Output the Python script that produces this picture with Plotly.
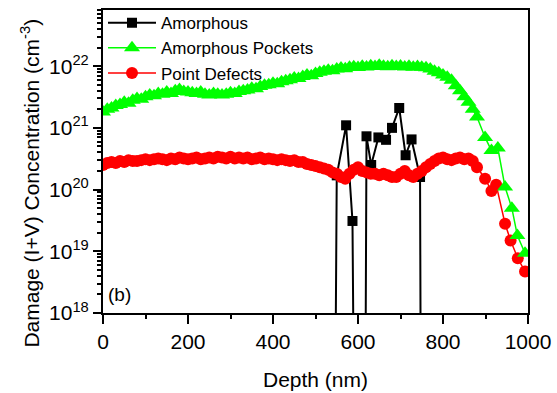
import plotly.graph_objects as go

# ---------------- data ----------------
pockets_depth = [0, 10, 20, 30, 40, 50, 60, 70, 80, 90,
                 100, 110, 120, 130, 140, 150, 160, 170, 180, 190,
                 200, 210, 220, 230, 240, 250, 260, 270, 280, 290,
                 300, 310, 320, 330, 340, 350, 360, 370, 380, 390,
                 400, 410, 420, 430, 440, 450, 460, 470, 480, 490,
                 500, 510, 520, 530, 540, 550, 560, 570, 580, 590,
                 600, 610, 620, 630, 640, 650, 660, 670, 680, 690,
                 700, 710, 720, 730, 740, 750, 760, 770, 780, 790,
                 800, 810, 820, 830, 840, 850, 860, 870, 880,
                 899, 914, 929, 946, 962, 975, 993]
pockets_conc = [1.8e21, 2.0e21, 2.1e21, 2.3e21, 2.4e21, 2.6e21, 2.5e21, 2.8e21, 3.0e21, 2.9e21,
                3.2e21, 3.4e21, 3.3e21, 3.6e21, 3.5e21, 3.8e21, 3.6e21, 4.0e21, 4.2e21, 3.9e21,
                3.8e21, 3.7e21, 3.6e21, 3.8e21, 3.5e21, 3.4e21, 3.6e21, 3.5e21, 3.4e21, 3.5e21,
                3.7e21, 3.6e21, 3.9e21, 4.0e21, 4.1e21, 4.4e21, 4.3e21, 4.7e21, 4.9e21, 5.0e21,
                5.3e21, 5.2e21, 5.6e21, 5.8e21, 6.0e21, 6.4e21, 6.3e21, 6.8e21, 7.2e21, 7.0e21,
                7.6e21, 8.0e21, 8.3e21, 8.6e21, 8.4e21, 9.0e21, 9.3e21, 9.1e21, 9.6e21, 9.8e21,
                9.5e21, 1.0e22, 9.7e21, 1.02e22, 9.9e21, 1.03e22, 1.0e22, 9.8e21, 1.02e22, 9.9e21,
                1.01e22, 9.7e21, 1.0e22, 9.6e21, 9.9e21, 9.6e21, 9.4e21, 9.0e21, 8.3e21, 7.8e21,
                7.2e21, 6.6e21, 5.9e21, 4.8e21, 4.0e21, 3.2e21, 2.6e21, 2.0e21, 1.5e21,
                7.0e20, 4.3e20, 4.7e20, 1.1e20, 5.0e19, 1.8e19, 9.3e18]

defects_depth = [0, 10, 20, 30, 40, 50, 60, 70, 80, 90,
                 100, 110, 120, 130, 140, 150, 160, 170, 180, 190,
                 200, 210, 220, 230, 240, 250, 260, 270, 280, 290,
                 300, 310, 320, 330, 340, 350, 360, 370, 380, 390,
                 400, 410, 420, 430, 440, 450, 460, 470, 480, 490,
                 500, 510, 520, 530, 540, 550, 560, 570, 580, 590,
                 600, 610, 620, 630, 640, 650, 660, 670, 680, 690,
                 700, 710, 720, 730, 740, 750, 760, 770, 780, 790,
                 800, 810, 820, 830, 840, 850, 860, 870, 880,
                 899, 914, 925, 946, 959, 976, 993]
defects_conc = [2.5e20, 2.7e20, 2.8e20, 2.7e20, 2.9e20, 2.8e20, 3.0e20, 2.9e20, 2.9e20, 3.0e20,
                3.1e20, 3.0e20, 3.1e20, 3.2e20, 3.1e20, 3.0e20, 3.2e20, 3.1e20, 3.3e20, 3.2e20,
                3.1e20, 3.2e20, 3.3e20, 3.1e20, 3.2e20, 3.3e20, 3.2e20, 3.4e20, 3.3e20, 3.2e20,
                3.4e20, 3.2e20, 3.3e20, 3.2e20, 3.3e20, 3.1e20, 3.2e20, 3.3e20, 3.1e20, 3.2e20,
                3.1e20, 3.0e20, 3.1e20, 3.0e20, 2.9e20, 3.0e20, 2.8e20, 2.8e20, 2.6e20, 2.5e20,
                2.4e20, 2.3e20, 2.2e20, 2.1e20, 1.9e20, 1.8e20, 1.6e20, 1.5e20, 1.8e20, 2.1e20,
                2.3e20, 2.0e20, 1.9e20, 1.8e20, 1.8e20, 1.7e20, 1.8e20, 1.7e20, 1.6e20, 1.6e20,
                1.8e20, 2.0e20, 1.7e20, 1.6e20, 1.8e20, 2.0e20, 2.3e20, 2.6e20, 2.9e20, 3.2e20,
                3.3e20, 3.1e20, 3.0e20, 3.2e20, 3.3e20, 3.1e20, 3.2e20, 2.9e20, 2.3e20,
                1.5e20, 9.5e19, 1.2e20, 2.8e19, 1.5e19, 7.7e18, 4.7e18]

amorphous_depth = [546, 550, 572, 587, 591, 617, 620, 631, 648, 666, 680, 697, 712, 726, 746, 748]
amorphous_conc = [1e16, 1.7e20, 1.1e21, 3.1e19, 1e16, 1e16, 7.3e20, 2.5e20, 7.0e20, 6.4e20,
                  1.0e21, 2.1e21, 3.6e20, 6.5e20, 1.6e20, 1e16]

y_tick_vals = [1e18, 1e19, 1e20, 1e21, 1e22]
y_tick_text = ["10<sup>18</sup>", "10<sup>19</sup>", "10<sup>20</sup>",
               "10<sup>21</sup>", "10<sup>22</sup>"]
y_minor_vals = [float(m) * 10.0 ** e for e in range(18, 23) for m in range(2, 10)]

FONT = "Liberation Sans, Arial, Helvetica, sans-serif"

fig = go.Figure()
fig.add_trace(go.Scatter(
    x=amorphous_depth, y=amorphous_conc, name="Amorphous", mode="lines+markers",
    line=dict(color="black", width=2),
    marker=dict(symbol="square", size=10, color="black"),
    legendrank=1))
fig.add_trace(go.Scatter(
    x=defects_depth, y=defects_conc, name="Point Defects", mode="lines+markers",
    line=dict(color="#ff0000", width=1.5),
    marker=dict(symbol="circle", size=12, color="#ff0000"),
    legendrank=3))
fig.add_trace(go.Scatter(
    x=pockets_depth, y=pockets_conc, name="Amorphous Pockets", mode="lines+markers",
    line=dict(color="#00ff00", width=1.5),
    marker=dict(symbol="triangle-up", size=14, color="#00ff00"),
    legendrank=2))

fig.add_annotation(text="(b)", xref="x", yref="paper", x=8, y=0.06,
                   xanchor="left", yanchor="middle", showarrow=False,
                   font=dict(size=19, color="black", family=FONT))
fig.add_annotation(text="Damage (I+V) Concentration (cm<sup>-3</sup>)",
                   xref="paper", yref="paper", x=-0.172, y=0.43,
                   xanchor="center", yanchor="middle", textangle=-90,
                   showarrow=False, font=dict(size=21, color="black", family=FONT))

fig.update_layout(
    width=557, height=393,
    margin=dict(l=103, r=29, t=5, b=80),
    paper_bgcolor="white", plot_bgcolor="white",
    font=dict(family=FONT, color="black", size=20),
    showlegend=True,
    legend=dict(x=0.0, y=1.016, xanchor="left", yanchor="top",
                bgcolor="rgba(0,0,0,0)", borderwidth=0,
                font=dict(size=17, family=FONT), itemwidth=48,
                tracegroupgap=0, traceorder="normal"),
    xaxis=dict(range=[0, 1000], tickmode="linear", tick0=0, dtick=200,
               ticks="outside", ticklen=9, tickwidth=2, tickcolor="black",
               minor=dict(ticks="outside", ticklen=4, tickwidth=2, tickcolor="black", dtick=100),
               showline=True, linewidth=2, linecolor="black", mirror=True,
               showgrid=False, zeroline=False, automargin=False,
               tickfont=dict(size=21),
               title=dict(text="Depth (nm)", font=dict(size=21), standoff=20)),
    yaxis=dict(type="log", range=[18, 22.91],
               tickmode="array", tickvals=y_tick_vals, ticktext=y_tick_text,
               ticks="outside", ticklen=8, tickwidth=2, tickcolor="black",
               minor=dict(ticks="outside", ticklen=4, tickwidth=1.5, tickcolor="black",
                          tickmode="array", tickvals=y_minor_vals),
               showline=True, linewidth=2, linecolor="black", mirror=True,
               showgrid=False, zeroline=False, automargin=False,
               tickfont=dict(size=21)),
)

fig.write_html("out.html", config={"displayModeBar": False},
               post_script="document.body.style.margin='0';document.body.style.overflow='hidden';")
